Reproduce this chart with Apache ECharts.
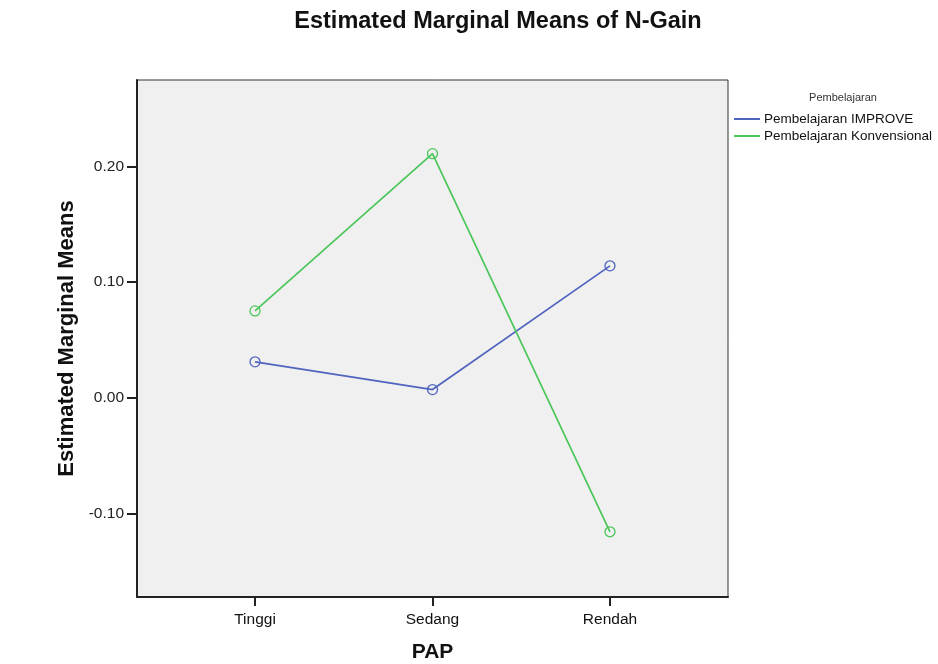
<!DOCTYPE html>
<html><head><meta charset="utf-8">
<script src="https://cdn.jsdelivr.net/npm/echarts@6/dist/echarts.min.js"></script>
<style>html,body{margin:0;padding:0;background:#fff}#c{width:938px;height:664px}</style>
</head><body><div id="c"></div>
<script>
const categories = ['Tinggi', 'Sedang', 'Rendah'];
const improve = [0.031, 0.007, 0.114];
const konvensional = [0.075, 0.211, -0.116];
const yTicks = [-0.10, 0.00, 0.10, 0.20];
const seriesNames = ['Pembelajaran IMPROVE', 'Pembelajaran Konvensional'];
const colors = ['#5064bf', '#4cc65a'];

const toXY = arr => arr.map((v, i) => [i + 1, v]);
const font = 'Liberation Sans, Arial, sans-serif';
const chart = echarts.init(document.getElementById('c'), null, {renderer: 'canvas'});
chart.setOption({
  backgroundColor: '#ffffff',
  animation: false,
  title: [
    {text: 'Estimated Marginal Means of N-Gain', left: 493, top: 5, textAlign: 'center',
     textStyle: {fontFamily: font, fontSize: 23.5, fontWeight: 'bold', color: '#111'}},
    {text: 'Pembelajaran', left: 838, top: 87, textAlign: 'center',
     textStyle: {fontFamily: font, fontSize: 11, fontWeight: 'normal', color: '#333'}}
  ],
  legend: {
    orient: 'vertical', left: 734, top: 112, itemGap: 3, padding: 0,
    itemWidth: 26, itemHeight: 2, icon: 'rect',
    textStyle: {fontFamily: font, fontSize: 13.5, color: '#111', padding: [0, 0, 0, -1]},
    data: seriesNames.map((n, i) => ({name: n, itemStyle: {color: colors[i], borderWidth: 0}}))
  },
  grid: {left: 137, top: 80, width: 591, height: 517, show: true,
         containLabel: false, outerBoundsMode: 'none',
         backgroundColor: '#f0f0f0', borderColor: '#333', borderWidth: 1},
  xAxis: {
    type: 'value', min: 0.335, max: 3.665,
    name: 'PAP', nameLocation: 'middle', nameGap: 45,
    nameTextStyle: {fontFamily: font, fontSize: 21, fontWeight: 'bold', color: '#111'},
    axisLine: {show: true, onZero: false, lineStyle: {color: '#222', width: 2}},
    axisTick: {show: true, length: 9, lineStyle: {color: '#222', width: 2},
               customValues: [1, 2, 3]},
    axisLabel: {customValues: [1, 2, 3], formatter: v => categories[Math.round(v) - 1],
                fontFamily: font, fontSize: 15.5, color: '#111', margin: 15},
    splitLine: {show: false}
  },
  yAxis: {
    type: 'value', min: -0.1724, max: 0.2747,
    name: 'Estimated Marginal Means', nameLocation: 'middle', nameGap: 57,
    nameTextStyle: {fontFamily: font, fontSize: 22, fontWeight: 'bold', color: '#111'},
    axisLine: {show: true, onZero: false, lineStyle: {color: '#222', width: 2}},
    axisTick: {show: true, length: 10, lineStyle: {color: '#222', width: 2},
               customValues: yTicks},
    axisLabel: {customValues: yTicks, formatter: v => v.toFixed(2),
                fontFamily: font, fontSize: 15.5, color: '#222', margin: 13},
    splitLine: {show: false}
  },
  series: [0, 1].map(i => ({
    name: seriesNames[i], type: 'line', data: toXY(i === 0 ? improve : konvensional),
    symbol: 'circle', symbolSize: 10,
    lineStyle: {width: 1.7, color: colors[i]},
    itemStyle: {color: 'rgba(0,0,0,0)', borderColor: colors[i], borderWidth: 1.3}
  }))
});
</script></body></html>
